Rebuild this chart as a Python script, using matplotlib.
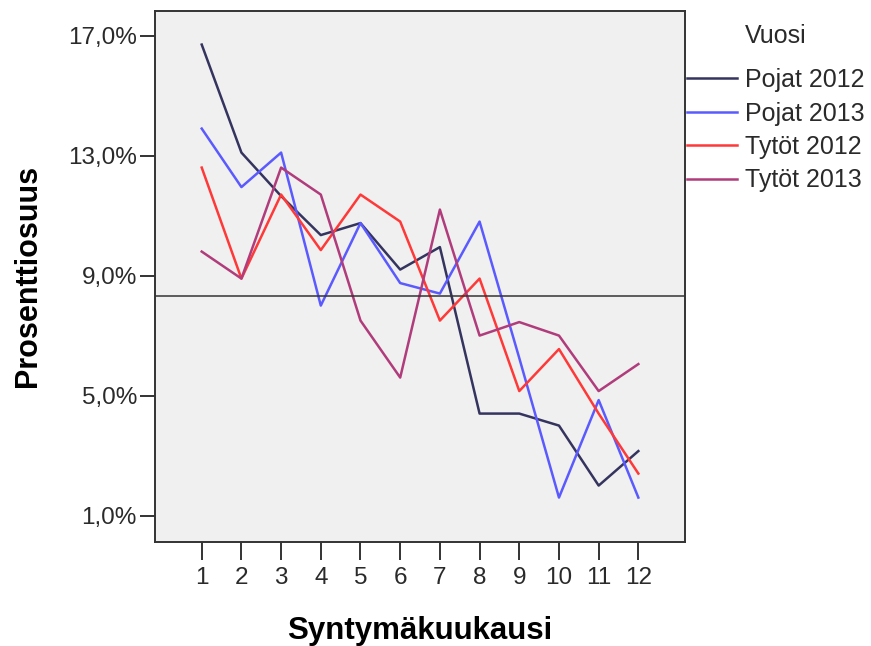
import numpy as np
import matplotlib.pyplot as plt

plt.rcParams['font.family'] = ['Liberation Sans', 'DejaVu Sans']

kuukaudet = np.arange(1, 13)
pojat_2012 = [16.7, 13.1, 11.65, 10.35, 10.75, 9.2, 9.95, 4.4, 4.4, 4.0, 2.0, 3.15]
pojat_2013 = [13.9, 11.95, 13.1, 8.0, 10.75, 8.75, 8.4, 10.8, 6.25, 1.6, 4.85, 1.6]
tytot_2012 = [12.6, 8.9, 11.7, 9.85, 11.7, 10.8, 7.5, 8.9, 5.15, 6.55, 4.4, 2.4]
tytot_2013 = [9.8, 8.9, 12.6, 11.7, 7.5, 5.6, 11.2, 7.0, 7.45, 7.0, 5.15, 6.05]
sarjat = ['Pojat 2012', 'Pojat 2013', 'Tytöt 2012', 'Tytöt 2013']
varit = ['#34345f', '#5a5aff', '#ff3838', '#b03c7c']
viiva_arvo = 100 / 12

fig = plt.figure(figsize=(8.71, 6.46), dpi=100)
ax = fig.add_axes([0.178, 0.1615, 0.6085, 0.8215])
ax.set_facecolor('#f0f0f0')

for arvot, nimi, vari in zip([pojat_2012, pojat_2013, tytot_2012, tytot_2013], sarjat, varit):
    ax.plot(kuukaudet, arvot, color=vari, lw=1.8, label=nimi)

ax.axhline(viiva_arvo, color='#333333', lw=1.1)

ax.set_xlim(-0.176, 13.176)
ax.set_ylim(0.13, 17.82)
ax.set_xticks(kuukaudet)
ax.set_yticks([1, 5, 9, 13, 17])
ax.set_yticklabels([f'{v:.1f}%'.replace('.', ',') for v in [1, 5, 9, 13, 17]])
ax.tick_params(axis='both', width=1.4, color='#333333', labelsize=17.5,
               labelcolor='#2a2a2a')
ax.tick_params(axis='y', length=11, pad=2)
ax.tick_params(axis='x', length=13, pad=5)
for s in ax.spines.values():
    s.set_color('#333333')
    s.set_linewidth(1.4)

ax.set_xlabel('Syntymäkuukausi', fontsize=22.5, fontweight='bold', labelpad=20)
ax.set_ylabel('Prosenttiosuus', fontsize=22, fontweight='bold', labelpad=18)

fig.text(745 / 871, 1 - 36 / 646, 'Vuosi', fontsize=18, color='#2a2a2a', va='center', ha='left')
ax.legend(loc='upper left', bbox_to_anchor=(687 / 871, 1 - 68 / 646),
          bbox_transform=fig.transFigure, frameon=False, fontsize=18,
          handlelength=2.0, handletextpad=0.3, labelspacing=0.38,
          borderpad=0, borderaxespad=0, labelcolor='#2a2a2a')

fig.savefig('out.png', dpi=100)
